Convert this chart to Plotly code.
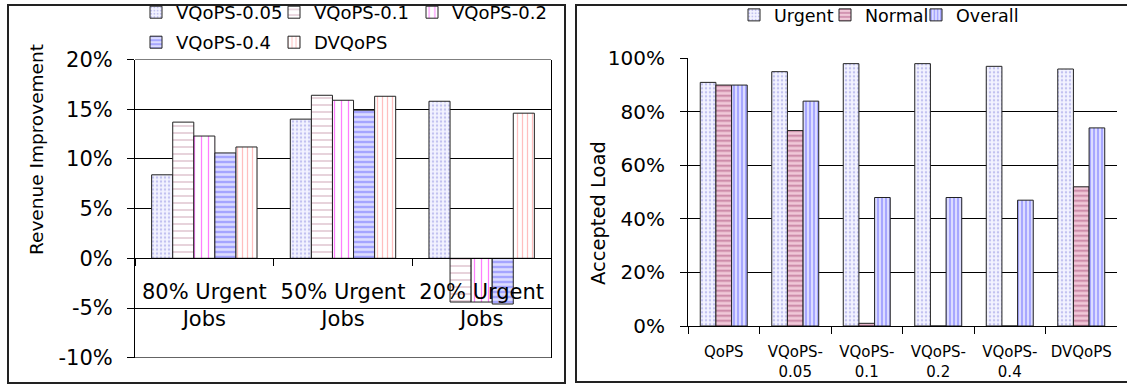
import plotly.graph_objects as go

W, H = 1127, 386

# Left panel: revenue improvement for each workload mix
groups = ["80% Urgent<br>Jobs", "50% Urgent<br>Jobs", "20% Urgent<br>Jobs"]
vqops_005 = [8.4, 14.0, 15.8]
vqops_01 = [13.7, 16.4, -4.4]
vqops_02 = [12.3, 15.9, -4.4]
vqops_04 = [10.6, 14.9, -4.6]
dvqops = [11.2, 16.3, 14.6]
rev_ticks = [-10, -5, 0, 5, 10, 15, 20]
rev_labels = ["-10%", "-5%", "0%", "5%", "10%", "15%", "20%"]

# Right panel: accepted load per scheduling scheme
schemes = ["QoPS", "VQoPS-<br>0.05", "VQoPS-<br>0.1", "VQoPS-<br>0.2", "VQoPS-<br>0.4", "DVQoPS"]
urgent = [91, 95, 98, 98, 97, 96]
normal = [90, 73, 1, 0, 0, 52]
overall = [90, 84, 48, 48, 47, 74]
load_ticks = [0, 20, 40, 60, 80, 100]
load_labels = ["0%", "20%", "40%", "60%", "80%", "100%"]

FONT = "DejaVu Sans"


def px_x(p):
    return p / W


def px_y(p):
    return 1 - p / H


left_ydom = [px_y(357.7), px_y(59.5)]
right_ydom = [px_y(326), px_y(58.3)]
rev_range = [-10, 20]
# the category axis of the left panel sits on the zero line
zero_pos = left_ydom[0] + (0 - rev_range[0]) / (rev_range[1] - rev_range[0]) * (left_ydom[1] - left_ydom[0])

styles = {
    "VQoPS-0.05": dict(shape=".", fgcolor="#8f8fe0", bgcolor="#f3f3ff", size=4, solidity=0.3),
    "VQoPS-0.1": dict(shape="-", fgcolor="#a05070", bgcolor="#ffffff", size=7, solidity=0.15),
    "VQoPS-0.2": dict(shape="|", fgcolor="#ff00ff", bgcolor="#ffffff", size=7, solidity=0.18),
    "VQoPS-0.4": dict(shape="-", fgcolor="#2a2aff", bgcolor="#dcdcff", size=5, solidity=0.3),
    "DVQoPS": dict(shape="|", fgcolor="#ff8080", bgcolor="#ffffff", size=5, solidity=0.25),
    "Urgent": dict(shape=".", fgcolor="#8f8fe0", bgcolor="#f3f3ff", size=4, solidity=0.3),
    "Normal": dict(shape="-", fgcolor="#993366", bgcolor="#f0c8d8", size=5, solidity=0.35),
    "Overall": dict(shape="|", fgcolor="#2a2aff", bgcolor="#dcdcff", size=4, solidity=0.3),
}

fig = go.Figure()

left_series = [
    ("VQoPS-0.05", vqops_005, "legend"),
    ("VQoPS-0.1", vqops_01, "legend"),
    ("VQoPS-0.2", vqops_02, "legend"),
    ("VQoPS-0.4", vqops_04, "legend2"),
    ("DVQoPS", dvqops, "legend2"),
]
lw = 0.152
for i, (name, vals, leg) in enumerate(left_series):
    fig.add_trace(go.Bar(
        x=groups, y=vals, name=name, xaxis="x", yaxis="y", legend=leg,
        legendwidth=100 if i == 2 else None,
        width=lw, offset=-2.5 * lw + i * lw,
        marker=dict(color=styles[name]["bgcolor"], pattern=styles[name],
                    line=dict(color="#222222", width=1)),
    ))

right_series = [("Urgent", urgent), ("Normal", normal), ("Overall", overall)]
rw = 0.219
for i, (name, vals) in enumerate(right_series):
    fig.add_trace(go.Bar(
        x=schemes, y=vals, name=name, xaxis="x2", yaxis="y2", legend="legend3",
        legendwidth=70 if i == 2 else None,
        width=rw, offset=-1.5 * rw + i * rw,
        marker=dict(color=styles[name]["bgcolor"], pattern=styles[name],
                    line=dict(color="#222222", width=1)),
    ))

axis_common = dict(showline=True, linecolor="black", linewidth=1, ticks="outside",
                   tickcolor="black", ticklen=7, tickwidth=1)
legend_common = dict(orientation="h", xanchor="left", yanchor="top", entrywidthmode="pixels",
                     bgcolor="rgba(0,0,0,0)", itemclick=False, itemdoubleclick=False)

# frame lines closing the left plot area at the top and bottom of its value range
frame_lines = [
    dict(type="line", xref="x domain", yref="y", x0=0, x1=1, y0=v, y1=v,
         line=dict(color="black", width=1))
    for v in rev_range
]

fig.update_layout(
    width=W, height=H,
    margin=dict(l=0, r=0, t=0, b=0, autoexpand=False),
    paper_bgcolor="white", plot_bgcolor="white",
    font=dict(family=FONT, color="black", size=18),
    barmode="overlay",
    xaxis=dict(domain=[px_x(135), px_x(551)], anchor="free", position=zero_pos,
               type="category", tickson="boundaries", tickangle=0,
               tickfont=dict(size=21), ticklabelstandoff=14, showgrid=False,
               **axis_common),
    yaxis=dict(domain=left_ydom, range=rev_range, tickvals=rev_ticks, ticktext=rev_labels,
               showgrid=True, gridcolor="black", gridwidth=1, zeroline=False, mirror=True,
               tickfont=dict(size=21), ticklabelstandoff=10, **axis_common),
    xaxis2=dict(domain=[px_x(688), px_x(1117)], anchor="y2", type="category",
                tickson="boundaries", tickangle=0, tickfont=dict(size=15),
                ticklabelstandoff=12, showgrid=False, **axis_common),
    yaxis2=dict(domain=right_ydom, anchor="x2", range=[0, 100], tickvals=load_ticks,
                ticktext=load_labels, showgrid=True, gridcolor="black", gridwidth=1,
                zeroline=False, tickfont=dict(size=20), ticklabelstandoff=11,
                **axis_common),
    legend=dict(x=px_x(136), y=px_y(-6), entrywidth=93, font=dict(size=18), **legend_common),
    legend2=dict(x=px_x(136), y=px_y(24), entrywidth=93, font=dict(size=18), **legend_common),
    legend3=dict(x=px_x(734), y=px_y(-3), entrywidth=46, font=dict(size=17.5), **legend_common),
    annotations=[
        dict(text="Revenue Improvement", textangle=-90, xref="paper", yref="paper",
             x=px_x(36), y=px_y(150), xanchor="center", yanchor="middle",
             showarrow=False, font=dict(size=18.5)),
        dict(text="Accepted Load", textangle=-90, xref="paper", yref="paper",
             x=px_x(599), y=px_y(213), xanchor="center", yanchor="middle",
             showarrow=False, font=dict(size=19.5)),
    ],
    shapes=frame_lines + [
        dict(type="rect", xref="paper", yref="paper", x0=px_x(8), x1=px_x(565),
             y0=px_y(383), y1=px_y(5), line=dict(color="#222222", width=2)),
        dict(type="rect", xref="paper", yref="paper", x0=px_x(576), x1=px_x(1135),
             y0=px_y(382), y1=px_y(5), line=dict(color="#222222", width=2)),
    ],
)

fig.write_html("out.html")
